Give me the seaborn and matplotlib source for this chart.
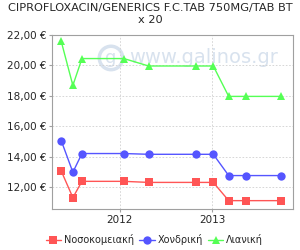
import pandas as pd
import matplotlib
matplotlib.use("Agg")
import matplotlib.pyplot as plt
import matplotlib.dates as mdates
from matplotlib.ticker import FuncFormatter
import seaborn as sns

# Dates of price changes
dates = ["2011-05-15", "2011-06-30", "2011-08-05", "2012-01-18", "2012-04-25",
         "2012-10-30", "2013-01-06", "2013-03-08", "2013-05-16", "2013-10-03"]
hospital = [13.05, 11.30, 12.37, 12.37, 12.30, 12.30, 12.30, 11.10, 11.10, 11.10]
wholesale = [15.05, 12.97, 14.20, 14.20, 14.15, 14.15, 14.15, 12.75, 12.75, 12.75]
retail = [21.58, 18.68, 20.45, 20.45, 19.96, 19.96, 19.96, 17.96, 17.96, 17.96]
series_names = ["Νοσοκομειακή", "Χονδρική", "Λιανική"]
colors = ["#FF5555", "#5555FF", "#55FF55"]
markers = ["s", "o", "^"]

df = pd.DataFrame({"date": pd.to_datetime(dates), series_names[0]: hospital,
                   series_names[1]: wholesale, series_names[2]: retail})
long_df = df.melt(id_vars="date", var_name="series", value_name="price")

sns.set_style("white")
plt.rcParams['font.family'] = ['DejaVu Sans']

fig = plt.figure(figsize=(3, 2.5), dpi=100)
ax = fig.add_axes([0.173, 0.164, 0.804, 0.696])

# watermark
ax.text(0.629, 0.868, "www.galinos.gr", transform=ax.transAxes, ha="center", va="center",
        fontsize=14, color="#d8e2ee", zorder=0)
ax.text(0.245, 0.868, "g", transform=ax.transAxes, ha="center", va="center",
        fontsize=13, color="#d8e2ee", zorder=0,
        bbox=dict(boxstyle="circle,pad=0.15", fc="none", ec="#d8e2ee", lw=2.5))

sns.lineplot(data=long_df, x="date", y="price", hue="series", style="series",
             hue_order=series_names, style_order=series_names,
             palette=colors, markers=markers, dashes=False, markersize=6,
             markeredgewidth=0, linewidth=1, ax=ax, zorder=3)

ax.set_xlim(pd.Timestamp("2011-04-08"), pd.Timestamp("2013-11-18"))
ax.set_ylim(10.55, 22.0)
ax.set_yticks([12, 14, 16, 18, 20, 22])
ax.yaxis.set_major_formatter(FuncFormatter(lambda v, p: f"{v:.2f} €".replace(".", ",")))
ax.xaxis.set_major_locator(mdates.YearLocator())
ax.xaxis.set_major_formatter(mdates.DateFormatter("%Y"))
ax.set_xlabel("")
ax.set_ylabel("")

ax.grid(True, color="#d0d0d0", linestyle=(0, (2, 2)), linewidth=0.6)
for s in ax.spines.values():
    s.set_color("#a0a0a0")
    s.set_linewidth(0.8)
ax.tick_params(axis="both", labelsize=7.5, length=2, color="#a0a0a0", pad=2,
               bottom=True, left=True)

fig.suptitle("CIPROFLOXACIN/GENERICS F.C.TAB 750MG/TAB BT\nx 20",
             x=0.5, y=0.99, fontsize=8.2, linespacing=1.3)

handles, labels = ax.get_legend_handles_labels()
ax.legend(handles, labels, loc="center", bbox_to_anchor=(0.425, -0.175), ncol=3,
          frameon=False, fontsize=7, handlelength=1.6, handletextpad=0.3,
          columnspacing=0.5, borderaxespad=0)

fig.savefig("out.png", dpi=100)
